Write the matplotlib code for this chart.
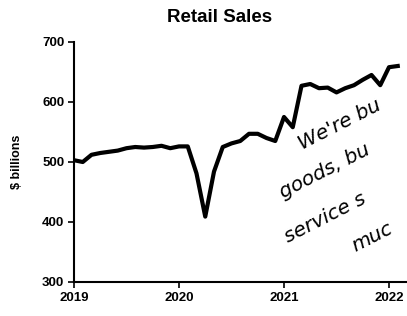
import matplotlib
matplotlib.use("Agg")
import matplotlib.pyplot as plt
import numpy as np

# Monthly retail sales ($ billions), Jan 2019 .. Feb 2022
sales = [503, 500, 512, 515, 517, 519, 523, 525, 524, 525, 527, 523,
         526, 526, 481, 409, 484, 525, 531, 535, 547, 547, 540, 535,
         575, 558, 627, 630, 623, 624, 616, 623, 628, 637, 645, 628,
         658, 660]
start_year = 2019
x_ticks = [2019, 2020, 2021, 2022]
y_ticks = [300, 400, 500, 600, 700]
# handwritten note, as much of it as is visible in the chart
note_lines = ["We're bu", "goods, bu", "service s", "muc"]

x = start_year + np.arange(len(sales)) / 12.0

W, H = 407, 316
fig = plt.figure(figsize=(W / 100, H / 100), dpi=100)
ax = fig.add_axes([74 / W, 1 - 282 / H, 1 - 74 / W, (282 - 42) / H])
ax.plot(x, sales, color="black", lw=3.0, solid_joinstyle="round")
ax.set_xlim(2019, 2019 + (407 - 74) / 105)
ax.set_ylim(300, 700)
ax.set_xticks(x_ticks)
ax.set_yticks(y_ticks)
for s in ["top", "right"]:
    ax.spines[s].set_visible(False)
for s in ["left", "bottom"]:
    ax.spines[s].set_linewidth(1.5)
ax.tick_params(direction="out", length=4, width=1.2, labelsize=9.5, pad=3)
for lab in ax.get_xticklabels() + ax.get_yticklabels():
    lab.set_fontweight("bold")
    lab.set_family("Liberation Sans")
ax.set_ylabel("$ billions", fontsize=9, fontweight="bold", family="Liberation Sans", labelpad=14)

fig.text(220 / W, 1 - 18 / H, "Retail Sales", ha="center", va="center",
         fontsize=13.5, fontweight="bold", family="Liberation Sans")

positions = [(302, 150), (283, 198), (288, 243), (355, 252)]
for (px, py), t in zip(positions, note_lines):
    fig.text(px / W, 1 - py / H, t, fontsize=14.5, rotation=27, ha="left", va="baseline",
             style="italic", family="DejaVu Sans", fontweight="light", rotation_mode="anchor")

fig.savefig("out.png", dpi=100)
